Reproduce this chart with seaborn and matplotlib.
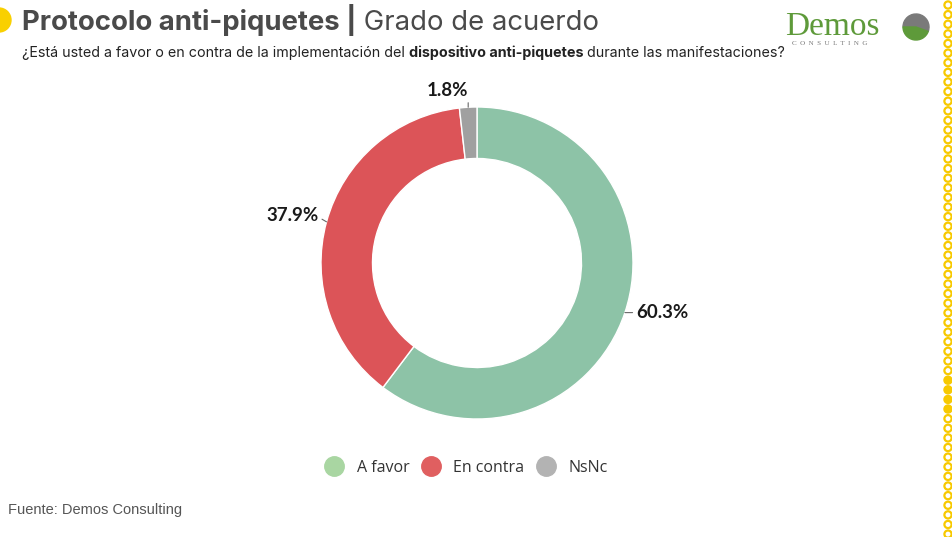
import matplotlib
matplotlib.use("Agg")
import matplotlib.pyplot as plt
from matplotlib.lines import Line2D
from matplotlib.patches import Circle, Wedge
import numpy as np
import seaborn as sns

# ---- data ----
categories = ["A favor", "En contra", "NsNc"]
values = [60.3, 37.9, 1.8]
slice_colors = ["#8DC3A7", "#DC5458", "#A0A0A0"]
legend_colors = ["#A9D6A2", "#E05F60", "#B3B3B3"]
title_parts = [("Protocolo anti-piquetes |", "bold"), (" Grado de acuerdo", "normal")]
subtitle_parts = [("¿Está usted a favor o en contra de la implementación del ", "normal"),
                  ("dispositivo anti-piquetes", "bold"),
                  (" durante las manifestaciones?", "normal")]
source = "Fuente: Demos Consulting"

sns.set_theme(style="white")
plt.rcParams["font.family"] = ["Inter", "DejaVu Sans"]

W, H = 953, 537
fig = plt.figure(figsize=(W / 100, H / 100), dpi=100)
fig.patch.set_facecolor("white")

# background overlay axes in pixel coordinates
bg = fig.add_axes([0, 0, 1, 1], zorder=0)
bg.set_xlim(0, W)
bg.set_ylim(H, 0)
bg.axis("off")

# yellow decorative circle top-left
bg.add_patch(Circle((-1, 20), 12, color="#F9D000", clip_on=False))

# yellow ring column on the right
y = 5.0
while y < H + 5:
    filled = 380 <= y <= 418
    bg.add_patch(Circle((948, y), 3.6,
                        facecolor="#F7C900" if filled else "none",
                        edgecolor="#F7C900", lw=1.6, clip_on=False))
    y += 9.62

fig.canvas.draw()
r = fig.canvas.get_renderer()

def put_seq(x0, y0, parts, size, color, family):
    x = x0
    for txt, weight in parts:
        t = bg.text(x, y0, txt, fontsize=size, fontweight=weight, color=color,
                    va="baseline", ha="left", family=family)
        bb = t.get_window_extent(renderer=r)
        x = x + bb.width
    return x

put_seq(22, 30, title_parts, 19.8, "#4A4A4A", ["Inter", "DejaVu Sans"])
put_seq(22, 57, subtitle_parts, 10.3, "#222222", ["Inter", "DejaVu Sans"])

# logo
bg.text(785, 35, "Demos", fontsize=24, color="#5E9A3A", family=["Liberation Serif"],
        va="baseline", ha="left")
bg.text(792, 45, "C  O  N  S  U  L  T  I  N  G", fontsize=5, color="#777777",
        family=["Liberation Serif"], va="baseline", ha="left")
bg.add_patch(Wedge((916, 27), 13, 180, 380, color="#7A7A7A"))
bg.add_patch(Wedge((916, 27), 13, 20, 180, color="#5E9A3A"))

# source
bg.text(8, 514, source, fontsize=10.5, color="#555555", family=["Liberation Sans"],
        va="baseline", ha="left")

# ---- donut ----
cx, cy, R = 477, 263, 156
ax = fig.add_axes([(cx - R) / W, (H - cy - R) / H, 2 * R / W, 2 * R / H], zorder=2)
wedges, _ = ax.pie(values, colors=slice_colors, startangle=90, counterclock=False,
                   radius=1.0, wedgeprops=dict(width=0.33, edgecolor="white", linewidth=1.0))
ax.set_xlim(-1, 1)
ax.set_ylim(-1, 1)
ax.axis("off")

label_offsets = [(0.07, 0.0, "left", "center", (0, 0.5)),
                 (-0.05, 0.04, "right", "center", (1, 0.4)),
                 (0.0, 0.05, "right", "bottom", (1, 0.1))]
for w, v, (dx, dy, ha, va, rp) in zip(wedges, values, label_offsets):
    ang = np.deg2rad((w.theta1 + w.theta2) / 2)
    x, y = np.cos(ang), np.sin(ang)
    ax.annotate(f"{v:.1f}%", xy=(x, y), xytext=(x + dx, y + dy), ha=ha, va=va,
                fontsize=13.5, fontweight="bold", color="#1A1A1A",
                family=["Lato", "DejaVu Sans"],
                arrowprops=dict(arrowstyle="-", color="#666666", lw=0.8,
                                shrinkA=0, shrinkB=0, relpos=rp))

# legend
handles = [Line2D([0], [0], marker="o", linestyle="none", markersize=14,
                  markerfacecolor=c, markeredgecolor=c) for c in legend_colors]
fig.legend(handles, categories, loc="center", bbox_to_anchor=(463 / W, 1 - 468 / H),
           ncol=3, frameon=False, handletextpad=0.4,
           columnspacing=0.35, labelcolor="#333333",
           prop={"family": ["Open Sans", "DejaVu Sans"], "size": 11.5})

fig.savefig("out.png", dpi=100, facecolor="white")
